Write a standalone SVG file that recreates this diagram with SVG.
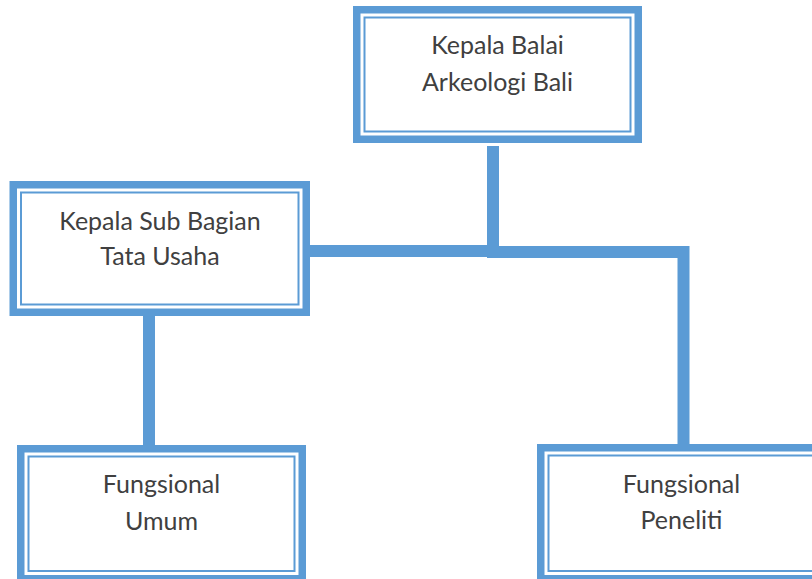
<svg xmlns="http://www.w3.org/2000/svg" width="812" height="579" viewBox="0 0 812 579">
<style>
.outer{fill:#fff;stroke:#5B9BD5;stroke-width:7.5}
.inner{fill:none;stroke:#5B9BD5;stroke-width:2}
.conn{fill:none;stroke:#5B9BD5;stroke-width:12;stroke-linejoin:miter}
text{font-family:Lato,"Open Sans","Liberation Sans",sans-serif;font-size:25px;fill:#404040;text-anchor:middle}
</style>
<rect width="812" height="579" fill="#fff"/>
<g id="connectors">
<path class="conn" d="M310,251 H493 V146"/>
<path class="conn" d="M493,146 V252 H683.5 V444"/>
<path class="conn" d="M149,316 V445"/>
</g>
<g id="kepala-balai">
<rect class="outer" x="356.75" y="9.75" width="281.5" height="129.5"/>
<rect class="inner" x="364.5" y="17.5" width="266" height="114"/>
<text x="497.5" y="54">Kepala Balai</text>
<text x="497.5" y="91">Arkeologi Bali</text>
</g>
<g id="kepala-sub-bagian">
<rect class="outer" x="13.25" y="184.75" width="293" height="127.5"/>
<rect class="inner" x="21" y="192.5" width="277.5" height="112"/>
<text x="160" y="230">Kepala Sub Bagian</text>
<text x="160" y="265">Tata Usaha</text>
</g>
<g id="fungsional-umum">
<rect class="outer" x="20.75" y="448.75" width="281.5" height="130"/>
<rect class="inner" x="28.5" y="456.5" width="266" height="114.5"/>
<text x="161.5" y="493">Fungsional</text>
<text x="161.5" y="530">Umum</text>
</g>
<g id="fungsional-peneliti">
<rect class="outer" x="540.75" y="447.75" width="281.5" height="131"/>
<rect class="inner" x="548.5" y="455.5" width="266" height="115.5"/>
<text x="681.5" y="493">Fungsional</text>
<text x="681.5" y="529">Peneliti</text>
</g>
</svg>
